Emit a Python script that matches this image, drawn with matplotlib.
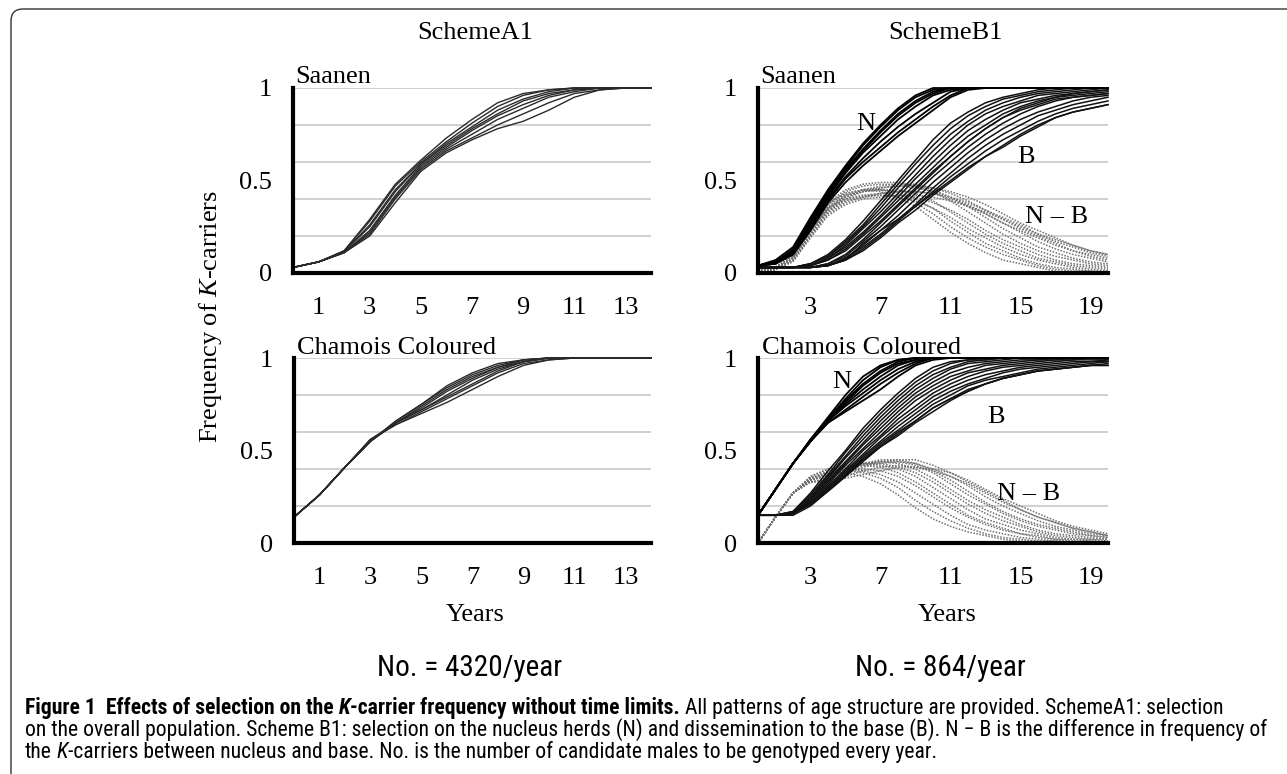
import matplotlib
matplotlib.use('Agg')
import matplotlib.pyplot as plt
from matplotlib import font_manager
from matplotlib.patches import FancyBboxPatch
from matplotlib.transforms import IdentityTransform

# ---------------- data ----------------
years_a = [0, 1, 2, 3, 4, 5, 6, 7, 8, 9, 10, 11, 12, 13, 14]
years_b = [0, 1, 2, 3, 4, 5, 6, 7, 8, 9, 10, 11, 12, 13, 14, 15, 16, 17, 18, 19, 20]
xticks_a = [1, 3, 5, 7, 9, 11, 13]
xticks_b = [3, 7, 11, 15, 19]
yticks = [0, 0.5, 1]
ytick_labels = ['0', '0.5', '1']
grid_levels = [0.2, 0.4, 0.6, 0.8, 1.0]

saanen_a1 = [
    [0.03, 0.06, 0.12, 0.29, 0.48, 0.61, 0.73, 0.83, 0.92, 0.97, 0.99, 1.00, 1.00, 1.00, 1.00],
    [0.03, 0.06, 0.12, 0.28, 0.47, 0.60, 0.71, 0.81, 0.90, 0.96, 0.99, 1.00, 1.00, 1.00, 1.00],
    [0.03, 0.06, 0.115, 0.26, 0.45, 0.59, 0.70, 0.79, 0.88, 0.94, 0.98, 1.00, 1.00, 1.00, 1.00],
    [0.03, 0.06, 0.115, 0.25, 0.44, 0.59, 0.69, 0.78, 0.86, 0.93, 0.97, 0.99, 1.00, 1.00, 1.00],
    [0.03, 0.06, 0.11, 0.23, 0.42, 0.58, 0.68, 0.77, 0.85, 0.91, 0.96, 0.99, 1.00, 1.00, 1.00],
    [0.03, 0.06, 0.11, 0.22, 0.41, 0.57, 0.67, 0.75, 0.83, 0.89, 0.95, 0.98, 1.00, 1.00, 1.00],
    [0.03, 0.06, 0.11, 0.21, 0.40, 0.56, 0.66, 0.73, 0.80, 0.86, 0.92, 0.97, 0.99, 1.00, 1.00],
    [0.03, 0.06, 0.11, 0.20, 0.38, 0.55, 0.65, 0.72, 0.78, 0.82, 0.88, 0.95, 0.99, 1.00, 1.00],
]

chamois_a1 = [
    [0.14, 0.26, 0.41, 0.55, 0.66, 0.75, 0.85, 0.92, 0.97, 0.99, 1.00, 1.00, 1.00, 1.00, 1.00],
    [0.14, 0.26, 0.41, 0.55, 0.66, 0.75, 0.84, 0.91, 0.96, 0.99, 1.00, 1.00, 1.00, 1.00, 1.00],
    [0.14, 0.26, 0.41, 0.55, 0.65, 0.74, 0.83, 0.90, 0.95, 0.99, 1.00, 1.00, 1.00, 1.00, 1.00],
    [0.14, 0.26, 0.41, 0.55, 0.65, 0.73, 0.82, 0.89, 0.95, 0.98, 1.00, 1.00, 1.00, 1.00, 1.00],
    [0.14, 0.26, 0.41, 0.55, 0.65, 0.72, 0.80, 0.88, 0.94, 0.98, 1.00, 1.00, 1.00, 1.00, 1.00],
    [0.14, 0.26, 0.41, 0.56, 0.65, 0.72, 0.79, 0.86, 0.93, 0.98, 1.00, 1.00, 1.00, 1.00, 1.00],
    [0.14, 0.26, 0.41, 0.56, 0.64, 0.71, 0.78, 0.85, 0.92, 0.97, 0.99, 1.00, 1.00, 1.00, 1.00],
    [0.14, 0.26, 0.41, 0.56, 0.64, 0.70, 0.76, 0.83, 0.90, 0.96, 0.99, 1.00, 1.00, 1.00, 1.00],
]

saanen_b1_N = [
    [0.04, 0.07, 0.14, 0.30, 0.45, 0.58, 0.70, 0.80, 0.89, 0.96, 1.00, 1.00, 1.00, 1.00, 1.00, 1.00, 1.00, 1.00, 1.00, 1.00, 1.00],
    [0.04, 0.06, 0.13, 0.29, 0.44, 0.57, 0.69, 0.79, 0.88, 0.95, 0.99, 1.00, 1.00, 1.00, 1.00, 1.00, 1.00, 1.00, 1.00, 1.00, 1.00],
    [0.04, 0.06, 0.12, 0.28, 0.43, 0.56, 0.67, 0.77, 0.86, 0.93, 0.98, 1.00, 1.00, 1.00, 1.00, 1.00, 1.00, 1.00, 1.00, 1.00, 1.00],
    [0.04, 0.06, 0.12, 0.27, 0.42, 0.55, 0.66, 0.76, 0.85, 0.92, 0.97, 1.00, 1.00, 1.00, 1.00, 1.00, 1.00, 1.00, 1.00, 1.00, 1.00],
    [0.04, 0.06, 0.11, 0.26, 0.41, 0.54, 0.65, 0.74, 0.83, 0.90, 0.96, 0.99, 1.00, 1.00, 1.00, 1.00, 1.00, 1.00, 1.00, 1.00, 1.00],
    [0.04, 0.05, 0.11, 0.25, 0.40, 0.52, 0.62, 0.71, 0.79, 0.86, 0.92, 0.98, 1.00, 1.00, 1.00, 1.00, 1.00, 1.00, 1.00, 1.00, 1.00],
    [0.04, 0.05, 0.10, 0.24, 0.39, 0.51, 0.60, 0.68, 0.76, 0.83, 0.90, 0.96, 1.00, 1.00, 1.00, 1.00, 1.00, 1.00, 1.00, 1.00, 1.00],
    [0.04, 0.05, 0.10, 0.23, 0.38, 0.49, 0.58, 0.66, 0.74, 0.81, 0.88, 0.95, 0.99, 1.00, 1.00, 1.00, 1.00, 1.00, 1.00, 1.00, 1.00],
]

saanen_b1_B = [
    [0.03, 0.03, 0.03, 0.05, 0.10, 0.18, 0.28, 0.39, 0.50, 0.61, 0.72, 0.81, 0.87, 0.92, 0.95, 0.97, 0.99, 1.00, 1.00, 1.00, 1.00],
    [0.03, 0.03, 0.03, 0.05, 0.09, 0.17, 0.26, 0.37, 0.48, 0.59, 0.69, 0.78, 0.85, 0.90, 0.94, 0.96, 0.98, 0.99, 1.00, 1.00, 1.00],
    [0.03, 0.03, 0.03, 0.05, 0.09, 0.16, 0.25, 0.35, 0.46, 0.56, 0.66, 0.75, 0.82, 0.88, 0.92, 0.95, 0.97, 0.98, 0.99, 1.00, 1.00],
    [0.03, 0.03, 0.03, 0.04, 0.08, 0.15, 0.24, 0.33, 0.43, 0.53, 0.63, 0.72, 0.80, 0.86, 0.90, 0.93, 0.96, 0.97, 0.98, 0.99, 1.00],
    [0.03, 0.03, 0.03, 0.04, 0.08, 0.14, 0.22, 0.31, 0.41, 0.51, 0.60, 0.69, 0.77, 0.83, 0.88, 0.92, 0.94, 0.96, 0.97, 0.98, 0.99],
    [0.03, 0.03, 0.03, 0.04, 0.07, 0.13, 0.21, 0.30, 0.39, 0.48, 0.57, 0.66, 0.74, 0.80, 0.86, 0.90, 0.93, 0.95, 0.96, 0.97, 0.98],
    [0.03, 0.03, 0.03, 0.04, 0.07, 0.12, 0.20, 0.28, 0.37, 0.46, 0.55, 0.63, 0.71, 0.78, 0.84, 0.88, 0.91, 0.94, 0.95, 0.96, 0.97],
    [0.03, 0.03, 0.03, 0.03, 0.05, 0.10, 0.18, 0.27, 0.36, 0.45, 0.54, 0.63, 0.71, 0.78, 0.84, 0.89, 0.92, 0.95, 0.97, 0.98, 0.99],
    [0.03, 0.03, 0.03, 0.03, 0.05, 0.09, 0.17, 0.25, 0.34, 0.43, 0.52, 0.60, 0.68, 0.75, 0.81, 0.86, 0.90, 0.93, 0.95, 0.96, 0.97],
    [0.03, 0.03, 0.03, 0.03, 0.04, 0.08, 0.15, 0.23, 0.31, 0.40, 0.49, 0.57, 0.65, 0.72, 0.78, 0.83, 0.87, 0.90, 0.93, 0.95, 0.96],
    [0.03, 0.03, 0.03, 0.03, 0.04, 0.08, 0.14, 0.21, 0.29, 0.37, 0.46, 0.54, 0.62, 0.69, 0.75, 0.80, 0.85, 0.88, 0.91, 0.93, 0.95],
    [0.03, 0.03, 0.03, 0.03, 0.04, 0.07, 0.13, 0.20, 0.28, 0.36, 0.44, 0.52, 0.59, 0.66, 0.72, 0.77, 0.82, 0.86, 0.89, 0.91, 0.93],
    [0.03, 0.03, 0.03, 0.03, 0.04, 0.07, 0.12, 0.19, 0.27, 0.34, 0.42, 0.49, 0.56, 0.63, 0.69, 0.75, 0.80, 0.84, 0.87, 0.89, 0.91],
    [0.03, 0.03, 0.03, 0.03, 0.04, 0.07, 0.16, 0.23, 0.29, 0.36, 0.43, 0.50, 0.57, 0.63, 0.68, 0.74, 0.79, 0.84, 0.87, 0.89, 0.91],
]

saanen_b1_NB = [
    [0.01, 0.03, 0.10, 0.26, 0.38, 0.43, 0.45, 0.44, 0.41, 0.36, 0.29, 0.22, 0.16, 0.11, 0.07, 0.05, 0.03, 0.01, 0.00, 0.00, 0.00],
    [0.01, 0.03, 0.09, 0.25, 0.37, 0.43, 0.45, 0.45, 0.43, 0.38, 0.32, 0.25, 0.19, 0.14, 0.10, 0.07, 0.04, 0.02, 0.01, 0.01, 0.00],
    [0.01, 0.03, 0.09, 0.24, 0.36, 0.42, 0.44, 0.45, 0.44, 0.40, 0.35, 0.28, 0.22, 0.16, 0.12, 0.08, 0.05, 0.03, 0.02, 0.01, 0.01],
    [0.01, 0.03, 0.09, 0.23, 0.35, 0.40, 0.42, 0.42, 0.41, 0.39, 0.35, 0.30, 0.24, 0.19, 0.14, 0.10, 0.07, 0.05, 0.03, 0.02, 0.01],
    [0.01, 0.02, 0.08, 0.23, 0.35, 0.41, 0.44, 0.45, 0.45, 0.43, 0.39, 0.33, 0.27, 0.21, 0.16, 0.12, 0.08, 0.06, 0.04, 0.03, 0.02],
    [0.01, 0.02, 0.08, 0.22, 0.34, 0.39, 0.41, 0.42, 0.42, 0.41, 0.38, 0.34, 0.29, 0.23, 0.18, 0.14, 0.10, 0.07, 0.05, 0.04, 0.03],
    [0.01, 0.02, 0.08, 0.24, 0.38, 0.45, 0.48, 0.49, 0.49, 0.47, 0.44, 0.39, 0.33, 0.27, 0.21, 0.16, 0.12, 0.09, 0.07, 0.05, 0.04],
    [0.01, 0.02, 0.08, 0.23, 0.37, 0.44, 0.47, 0.48, 0.48, 0.47, 0.45, 0.41, 0.36, 0.30, 0.24, 0.19, 0.14, 0.11, 0.08, 0.06, 0.05],
    [0.01, 0.02, 0.07, 0.22, 0.35, 0.42, 0.45, 0.46, 0.47, 0.46, 0.44, 0.41, 0.37, 0.32, 0.27, 0.22, 0.17, 0.13, 0.10, 0.08, 0.06],
    [0.01, 0.02, 0.07, 0.21, 0.33, 0.39, 0.42, 0.43, 0.44, 0.44, 0.43, 0.40, 0.36, 0.32, 0.27, 0.23, 0.19, 0.15, 0.12, 0.09, 0.07],
    [0.01, 0.02, 0.07, 0.21, 0.34, 0.41, 0.45, 0.47, 0.48, 0.48, 0.46, 0.43, 0.39, 0.34, 0.29, 0.24, 0.20, 0.16, 0.12, 0.10, 0.08],
    [0.01, 0.02, 0.07, 0.20, 0.32, 0.38, 0.41, 0.43, 0.44, 0.44, 0.43, 0.41, 0.38, 0.34, 0.30, 0.26, 0.21, 0.17, 0.14, 0.11, 0.09],
    [0.01, 0.02, 0.06, 0.19, 0.31, 0.37, 0.40, 0.41, 0.42, 0.42, 0.41, 0.39, 0.36, 0.33, 0.29, 0.25, 0.21, 0.18, 0.15, 0.12, 0.10],
    [0.01, 0.02, 0.07, 0.20, 0.33, 0.40, 0.44, 0.46, 0.47, 0.47, 0.46, 0.44, 0.41, 0.37, 0.32, 0.27, 0.23, 0.19, 0.15, 0.12, 0.10],
]

chamois_b1_N = [
    [0.15, 0.29, 0.43, 0.56, 0.68, 0.80, 0.90, 0.96, 0.99, 1.00, 1.00, 1.00, 1.00, 1.00, 1.00, 1.00, 1.00, 1.00, 1.00, 1.00, 1.00],
    [0.15, 0.29, 0.43, 0.56, 0.67, 0.78, 0.88, 0.95, 0.99, 1.00, 1.00, 1.00, 1.00, 1.00, 1.00, 1.00, 1.00, 1.00, 1.00, 1.00, 1.00],
    [0.15, 0.29, 0.43, 0.55, 0.67, 0.77, 0.86, 0.93, 0.98, 1.00, 1.00, 1.00, 1.00, 1.00, 1.00, 1.00, 1.00, 1.00, 1.00, 1.00, 1.00],
    [0.15, 0.29, 0.43, 0.55, 0.66, 0.76, 0.85, 0.92, 0.97, 0.99, 1.00, 1.00, 1.00, 1.00, 1.00, 1.00, 1.00, 1.00, 1.00, 1.00, 1.00],
    [0.15, 0.29, 0.43, 0.55, 0.66, 0.75, 0.83, 0.90, 0.96, 0.99, 1.00, 1.00, 1.00, 1.00, 1.00, 1.00, 1.00, 1.00, 1.00, 1.00, 1.00],
    [0.15, 0.29, 0.43, 0.55, 0.66, 0.74, 0.81, 0.88, 0.94, 0.98, 1.00, 1.00, 1.00, 1.00, 1.00, 1.00, 1.00, 1.00, 1.00, 1.00, 1.00],
    [0.15, 0.29, 0.43, 0.55, 0.65, 0.72, 0.79, 0.86, 0.92, 0.97, 1.00, 1.00, 1.00, 1.00, 1.00, 1.00, 1.00, 1.00, 1.00, 1.00, 1.00],
    [0.15, 0.29, 0.43, 0.55, 0.65, 0.71, 0.77, 0.83, 0.90, 0.96, 0.99, 1.00, 1.00, 1.00, 1.00, 1.00, 1.00, 1.00, 1.00, 1.00, 1.00],
]

chamois_b1_B = [
    [0.15, 0.15, 0.17, 0.27, 0.39, 0.50, 0.62, 0.72, 0.81, 0.89, 0.95, 0.98, 0.99, 1.00, 1.00, 1.00, 1.00, 1.00, 1.00, 1.00, 1.00],
    [0.15, 0.15, 0.17, 0.26, 0.37, 0.49, 0.60, 0.70, 0.79, 0.87, 0.93, 0.97, 0.99, 0.99, 1.00, 1.00, 1.00, 1.00, 1.00, 1.00, 1.00],
    [0.15, 0.15, 0.17, 0.25, 0.36, 0.47, 0.58, 0.68, 0.77, 0.85, 0.91, 0.95, 0.98, 0.99, 1.00, 1.00, 1.00, 1.00, 1.00, 1.00, 1.00],
    [0.15, 0.15, 0.16, 0.24, 0.35, 0.46, 0.56, 0.66, 0.75, 0.83, 0.89, 0.94, 0.97, 0.98, 0.99, 1.00, 1.00, 1.00, 1.00, 1.00, 1.00],
    [0.15, 0.15, 0.16, 0.24, 0.34, 0.44, 0.54, 0.64, 0.73, 0.81, 0.87, 0.92, 0.95, 0.97, 0.98, 0.99, 0.99, 1.00, 1.00, 1.00, 1.00],
    [0.15, 0.15, 0.16, 0.23, 0.33, 0.43, 0.53, 0.62, 0.71, 0.79, 0.85, 0.90, 0.93, 0.96, 0.97, 0.98, 0.99, 0.99, 1.00, 1.00, 1.00],
    [0.15, 0.15, 0.16, 0.23, 0.32, 0.42, 0.51, 0.60, 0.69, 0.77, 0.83, 0.88, 0.92, 0.94, 0.96, 0.97, 0.98, 0.99, 0.99, 1.00, 1.00],
    [0.15, 0.15, 0.16, 0.22, 0.31, 0.40, 0.50, 0.58, 0.67, 0.74, 0.81, 0.86, 0.90, 0.93, 0.95, 0.96, 0.97, 0.98, 0.99, 0.99, 0.99],
    [0.15, 0.15, 0.16, 0.22, 0.30, 0.39, 0.48, 0.57, 0.65, 0.72, 0.79, 0.84, 0.88, 0.91, 0.93, 0.95, 0.96, 0.97, 0.98, 0.98, 0.99],
    [0.15, 0.15, 0.16, 0.22, 0.30, 0.38, 0.47, 0.55, 0.63, 0.70, 0.77, 0.82, 0.86, 0.89, 0.92, 0.94, 0.95, 0.96, 0.97, 0.98, 0.98],
    [0.15, 0.15, 0.16, 0.21, 0.29, 0.37, 0.46, 0.54, 0.61, 0.68, 0.75, 0.80, 0.85, 0.88, 0.90, 0.92, 0.94, 0.95, 0.96, 0.97, 0.98],
    [0.15, 0.15, 0.16, 0.21, 0.29, 0.37, 0.45, 0.53, 0.60, 0.66, 0.73, 0.78, 0.83, 0.86, 0.89, 0.91, 0.93, 0.94, 0.95, 0.96, 0.97],
    [0.15, 0.15, 0.16, 0.21, 0.28, 0.36, 0.45, 0.52, 0.59, 0.66, 0.73, 0.78, 0.82, 0.86, 0.89, 0.91, 0.93, 0.94, 0.95, 0.96, 0.96],
    [0.15, 0.15, 0.15, 0.20, 0.28, 0.36, 0.44, 0.52, 0.58, 0.65, 0.71, 0.77, 0.82, 0.86, 0.89, 0.91, 0.93, 0.94, 0.95, 0.96, 0.96],
]

chamois_b1_NB = [
    [0.00, 0.14, 0.27, 0.35, 0.38, 0.38, 0.36, 0.32, 0.26, 0.19, 0.13, 0.09, 0.06, 0.04, 0.02, 0.01, 0.01, 0.00, 0.00, 0.00, 0.00],
    [0.00, 0.14, 0.27, 0.35, 0.38, 0.39, 0.38, 0.35, 0.30, 0.23, 0.17, 0.12, 0.08, 0.05, 0.03, 0.02, 0.01, 0.01, 0.00, 0.00, 0.00],
    [0.00, 0.14, 0.27, 0.34, 0.37, 0.39, 0.39, 0.37, 0.33, 0.27, 0.21, 0.15, 0.10, 0.07, 0.05, 0.03, 0.02, 0.01, 0.01, 0.00, 0.00],
    [0.00, 0.14, 0.27, 0.34, 0.37, 0.39, 0.40, 0.39, 0.36, 0.31, 0.25, 0.19, 0.14, 0.10, 0.07, 0.05, 0.03, 0.02, 0.01, 0.01, 0.00],
    [0.00, 0.14, 0.27, 0.36, 0.40, 0.42, 0.42, 0.41, 0.38, 0.33, 0.27, 0.21, 0.15, 0.11, 0.08, 0.05, 0.04, 0.02, 0.02, 0.01, 0.01],
    [0.00, 0.14, 0.27, 0.36, 0.40, 0.42, 0.43, 0.42, 0.40, 0.36, 0.30, 0.24, 0.18, 0.13, 0.10, 0.07, 0.05, 0.03, 0.02, 0.02, 0.01],
    [0.00, 0.14, 0.27, 0.35, 0.39, 0.41, 0.43, 0.43, 0.41, 0.38, 0.33, 0.27, 0.21, 0.16, 0.12, 0.09, 0.06, 0.04, 0.03, 0.02, 0.02],
    [0.00, 0.14, 0.27, 0.35, 0.38, 0.41, 0.43, 0.44, 0.43, 0.40, 0.35, 0.29, 0.23, 0.18, 0.14, 0.10, 0.07, 0.05, 0.04, 0.03, 0.02],
    [0.00, 0.14, 0.27, 0.34, 0.37, 0.40, 0.42, 0.44, 0.44, 0.42, 0.38, 0.32, 0.26, 0.21, 0.16, 0.12, 0.09, 0.07, 0.05, 0.04, 0.03],
    [0.00, 0.14, 0.27, 0.34, 0.37, 0.40, 0.43, 0.45, 0.45, 0.43, 0.39, 0.34, 0.28, 0.22, 0.17, 0.13, 0.10, 0.08, 0.06, 0.04, 0.03],
    [0.00, 0.14, 0.27, 0.33, 0.35, 0.38, 0.41, 0.43, 0.44, 0.43, 0.40, 0.36, 0.31, 0.25, 0.20, 0.16, 0.12, 0.09, 0.07, 0.05, 0.04],
    [0.00, 0.14, 0.27, 0.33, 0.34, 0.36, 0.39, 0.41, 0.42, 0.41, 0.39, 0.36, 0.32, 0.27, 0.22, 0.18, 0.14, 0.11, 0.08, 0.06, 0.04],
    [0.00, 0.14, 0.27, 0.34, 0.36, 0.39, 0.42, 0.44, 0.45, 0.45, 0.42, 0.38, 0.33, 0.28, 0.23, 0.18, 0.14, 0.11, 0.08, 0.06, 0.04],
    [0.00, 0.14, 0.27, 0.33, 0.33, 0.35, 0.37, 0.39, 0.41, 0.41, 0.40, 0.38, 0.34, 0.29, 0.24, 0.20, 0.16, 0.12, 0.09, 0.07, 0.05],
]

titles = ['SchemeA1', 'SchemeB1']
breeds = ['Saanen', 'Chamois Coloured']
numbers = ['No. = 4320/year', 'No. = 864/year']

# ---------------- figure ----------------
W, H, DPI = 1287, 774, 100
SERIF = ['Liberation Serif', 'DejaVu Serif']
plt.rcParams['font.family'] = SERIF
plt.rcParams['mathtext.fontset'] = 'custom'
plt.rcParams['mathtext.rm'] = 'Liberation Serif'
plt.rcParams['mathtext.it'] = 'Liberation Serif:italic'
FS = 19

fig = plt.figure(figsize=(W / DPI, H / DPI), dpi=DPI)


def fx(x):
    return x / W


def fy(y):
    return 1 - y / H


def make_ax(x0, x1, ytop, ybot, xmax, xt):
    ax = fig.add_axes([fx(x0), fy(ybot), (x1 - x0) / W, (ybot - ytop) / H])
    ax.set_xlim(0, xmax)
    ax.set_ylim(0, 1)
    for g in grid_levels:
        ax.axhline(g, color='#c4c4c4', lw=1.1, zorder=0)
    for s in ['top', 'right']:
        ax.spines[s].set_visible(False)
    for s in ['left', 'bottom']:
        ax.spines[s].set_linewidth(3.0)
        ax.spines[s].set_color('black')
        ax.spines[s].set_zorder(6)
    ax.set_xticks(xt)
    ax.set_xticklabels([str(v) for v in xt])
    ax.set_yticks(yticks)
    ax.set_yticklabels(ytick_labels)
    ax.tick_params(axis='x', length=0, pad=17, labelsize=FS)
    ax.tick_params(axis='y', length=0, pad=15, labelsize=FS)
    ax.patch.set_alpha(0)
    return ax


ax_tl = make_ax(293, 651, 88, 273, 14, xticks_a)
ax_tr = make_ax(758, 1108, 88, 273, 20, xticks_b)
ax_bl = make_ax(294, 651, 358, 543, 14, xticks_a)
ax_br = make_ax(758, 1108, 358, 543, 20, xticks_b)

for ax, data in [(ax_tl, saanen_a1), (ax_bl, chamois_a1)]:
    for series in data:
        ax.plot(years_a, series, color='#2a2a2a', lw=1.0, clip_on=False, zorder=3)

for ax, nb, b, n in [(ax_tr, saanen_b1_NB, saanen_b1_B, saanen_b1_N),
                     (ax_br, chamois_b1_NB, chamois_b1_B, chamois_b1_N)]:
    for series in nb:
        ax.plot(years_b, series, color='#707070', lw=1.1, ls=(0, (1, 1)), clip_on=False, zorder=2)
    for series in b:
        ax.plot(years_b, series, color='#111111', lw=1.1, clip_on=False, zorder=3)
    for series in n:
        ax.plot(years_b, series, color='black', lw=1.3, clip_on=False, zorder=4)


def ftext(x, y, s, **kw):
    kw.setdefault('fontsize', FS)
    return fig.text(fx(x), fy(y), s, **kw)


# titles and panel labels
ftext(475, 33, titles[0], ha='center', va='center')
ftext(945, 33, titles[1], ha='center', va='center')
ftext(295, 83, breeds[0], ha='left', va='baseline')
ftext(760, 83, breeds[0], ha='left', va='baseline')
ftext(297, 354, breeds[1], ha='left', va='baseline')
ftext(762, 354, breeds[1], ha='left', va='baseline')

ftext(856, 130, 'N', ha='left', va='baseline')
ftext(1017, 163, 'B', ha='left', va='baseline')
ftext(1025, 223, 'N \u2013 B', ha='left', va='baseline')
ftext(832, 388, 'N', ha='left', va='baseline')
ftext(987, 423, 'B', ha='left', va='baseline')
ftext(997, 500, 'N \u2013 B', ha='left', va='baseline')

ftext(475, 615, 'Years', ha='center', va='center')
ftext(947, 615, 'Years', ha='center', va='center')
ftext(210, 316, r'Frequency of $K$-carriers', ha='center', va='center', rotation=90)

# frame (left and top edges with rounded corner)
frame = FancyBboxPatch((11, -200), 1500, H - 9 + 200,
                       boxstyle='round,pad=0,rounding_size=12',
                       transform=IdentityTransform(), fill=False,
                       edgecolor='#333333', lw=1.0)
fig.add_artist(frame)

# caption font
names = {f.name for f in font_manager.fontManager.ttflist}
cap_family = 'DejaVu Sans'
for cand in ['Liberation Sans Narrow', 'Roboto Condensed', 'Open Sans Condensed',
             'DejaVu Sans Condensed', 'Liberation Sans']:
    if cand in names:
        cap_family = cand
        break

renderer = fig.canvas.get_renderer()


def seg_w(txt, size, weight='normal', style='normal'):
    t = fig.text(0, 0, txt, fontsize=size, family=cap_family, weight=weight, style=style)
    w = t.get_window_extent(renderer).width
    t.remove()
    return w


line1 = [('Figure 1  Effects of selection on the', 'bold', 'normal', 0),
         ('K', 'bold', 'italic', 1),
         ('-carrier frequency without time limits.', 'bold', 'normal', 0),
         ('All patterns of age structure are provided. SchemeA1: selection', 'normal', 'normal', 1)]
line2 = [('on the overall population. Scheme B1: selection on the nucleus herds (N) and '
          'dissemination to the base (B). N \u2212 B is the difference in frequency of', 'normal', 'normal', 0)]
line3 = [('the', 'normal', 'normal', 0),
         ('K', 'normal', 'italic', 1),
         ('-carriers between nucleus and base. No. is the number of candidate males to be '
          'genotyped every year.', 'normal', 'normal', 0)]


def line_width(segs, size):
    sp = seg_w('a a', size) - seg_w('aa', size)
    tot = 0
    for txt, wt, st, gap in segs:
        tot += gap * sp + seg_w(txt, size, wt, st)
    return tot


base = 10.0
widest = max(line_width(line1, base), line_width(line2, base))
cap_size = base * 1240.0 / widest


def draw_line(segs, x0, ybase, size):
    sp = seg_w('a a', size) - seg_w('aa', size)
    x = x0
    for txt, wt, st, gap in segs:
        x += gap * sp
        fig.text(fx(x), fy(ybase), txt, fontsize=size, family=cap_family,
                 weight=wt, style=st, ha='left', va='baseline')
        x += seg_w(txt, size, wt, st)


draw_line(line1, 25, 714, cap_size)
draw_line(line2, 25, 736, cap_size)
draw_line(line3, 25, 758, cap_size)

fig.text(fx(470), fy(668), numbers[0], fontsize=cap_size * 1.35, family=cap_family,
         ha='center', va='center')
fig.text(fx(940), fy(668), numbers[1], fontsize=cap_size * 1.35, family=cap_family,
         ha='center', va='center')

fig.savefig('out.png', dpi=DPI)
